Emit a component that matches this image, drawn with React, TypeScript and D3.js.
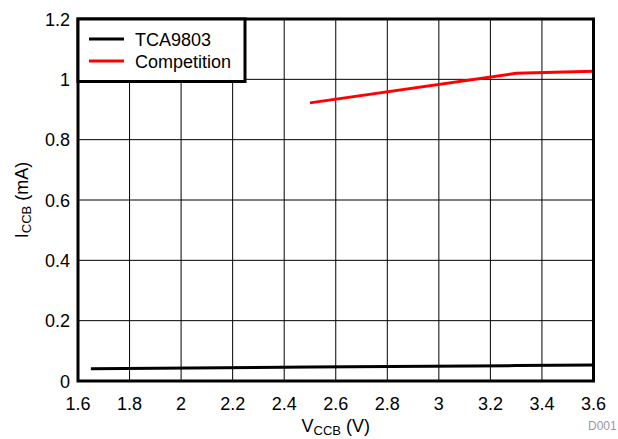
import React from "react";
import * as d3 from "d3";

const xTicks = [1.6, 1.8, 2, 2.2, 2.4, 2.6, 2.8, 3, 3.2, 3.4, 3.6];
const yTicks = [0, 0.2, 0.4, 0.6, 0.8, 1, 1.2];
const tcaV = [1.65, 2.5, 3.3, 3.6];
const tcaI = [0.041, 0.046, 0.051, 0.053];
const compV = [2.5, 3.3, 3.6];
const compI = [0.922, 1.02, 1.027];
const seriesNames = ["TCA9803", "Competition"];
const seriesColors = ["#000000", "#ff0000"];

const W = 618, H = 439;
const m = { left: 78, right: 593.5, top: 19, bottom: 381 };
const font = "Arial, 'Liberation Sans', sans-serif";

export default function App() {
  const x = d3.scaleLinear().domain([1.6, 3.6]).range([m.left, m.right]);
  const y = d3.scaleLinear().domain([0, 1.2]).range([m.bottom, m.top]);
  const line = d3.line<[number, number]>().x(d => x(d[0])).y(d => y(d[1]));
  const tca = tcaV.map((v, i) => [v, tcaI[i]] as [number, number]);
  const comp = compV.map((v, i) => [v, compI[i]] as [number, number]);
  const series = [tca, comp];
  return (
    <svg width={W} height={H} style={{ position: "absolute", left: 0, top: 0 }} fontFamily={font}>
      <rect x={0} y={0} width={W} height={H} fill="#fff" />
      {xTicks.slice(1, -1).map(t => (
        <line key={"gx" + t} x1={x(t)} x2={x(t)} y1={m.top} y2={m.bottom} stroke="#000" strokeWidth={1} />
      ))}
      {yTicks.slice(1, -1).map(t => (
        <line key={"gy" + t} x1={m.left} x2={m.right} y1={y(t)} y2={y(t)} stroke="#000" strokeWidth={1} />
      ))}
      {series.map((s, i) => (
        <path key={"s" + i} d={line(s) || ""} fill="none" stroke={seriesColors[i]} strokeWidth={3} />
      ))}
      <rect x={m.left} y={m.top} width={m.right - m.left} height={m.bottom - m.top} fill="none" stroke="#000" strokeWidth={3} />
      {xTicks.map(t => (
        <text key={"xt" + t} x={x(t)} y={410} textAnchor="middle" fontSize={18} fill="#000">{String(t)}</text>
      ))}
      {yTicks.map(t => (
        <text key={"yt" + t} x={70} y={y(t) + 6.5} textAnchor="end" fontSize={18} fill="#000">{String(t)}</text>
      ))}
      <text x={(m.left + m.right) / 2} y={432} textAnchor="middle" fontSize={18} fill="#000">
        V<tspan fontSize={13} dy={3}>CCB</tspan><tspan dy={-3}> (V)</tspan>
      </text>
      <text transform={`translate(28,${(m.top + m.bottom) / 2}) rotate(-90)`} textAnchor="middle" fontSize={18} fill="#000">
        I<tspan fontSize={13} dy={3}>CCB</tspan><tspan dy={-3}> (mA)</tspan>
      </text>
      <g>
        <rect x={m.left} y={m.top} width={245 - m.left} height={81.5 - m.top} fill="#fff" stroke="#000" strokeWidth={3} />
        {seriesNames.map((n, i) => (
          <g key={n}>
            <line x1={89} x2={124} y1={39 + i * 22} y2={39 + i * 22} stroke={seriesColors[i]} strokeWidth={3} />
            <text x={135} y={45.5 + i * 22} fontSize={18} fill="#000">{n}</text>
          </g>
        ))}
      </g>
      <text x={588} y={430} fontSize={12} fill="#999">D001</text>
    </svg>
  );
}
